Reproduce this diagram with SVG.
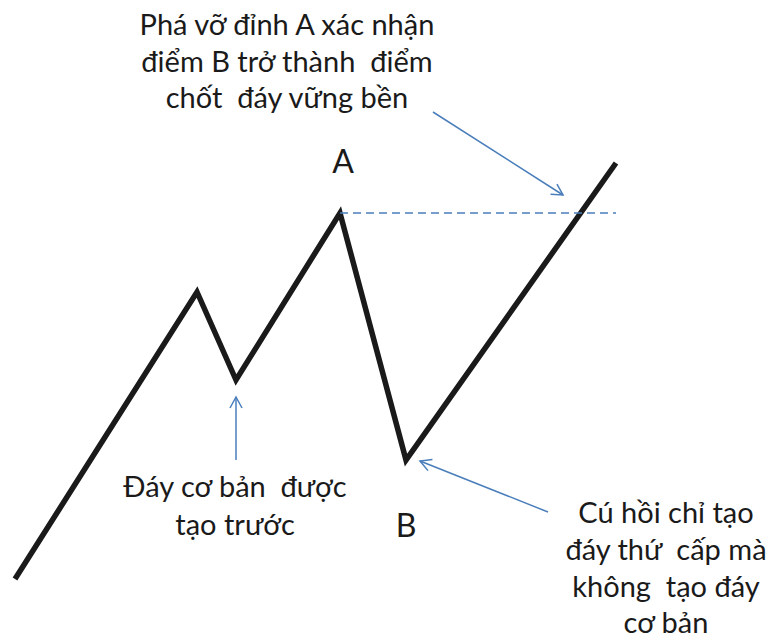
<svg xmlns="http://www.w3.org/2000/svg" width="771" height="642" viewBox="0 0 771 642">
<defs>
<marker id="arr" markerWidth="14" markerHeight="14" refX="12" refY="7" orient="auto" markerUnits="userSpaceOnUse">
<path d="M1,1 L12,7 L1,13" fill="none" stroke="#4a7ebb" stroke-width="1.5"/>
</marker>
<style>
text{font-family:Lato,"Noto Sans",sans-serif;fill:#1a1a1a;text-anchor:middle;white-space:pre}
.lbl{font-size:29px}
.big{font-size:32px}
.conn{stroke:#4a7ebb;stroke-width:1.5;fill:none}
</style>
</defs>
<g id="price">
<polyline points="15,579 197,292 236,380 340,213 406,460 616,163" fill="none" stroke="#1a1a1a" stroke-width="5.5" stroke-linejoin="miter"/>
</g>
<g id="connectors">
<line class="conn" x1="340" y1="213" x2="616" y2="213" stroke-dasharray="8,5"/>
<line class="conn" x1="433" y1="112" x2="563" y2="195" marker-end="url(#arr)"/>
<line class="conn" x1="236" y1="460" x2="236" y2="397" marker-end="url(#arr)"/>
<line class="conn" x1="548" y1="512" x2="420" y2="461" marker-end="url(#arr)"/>
</g>
<g id="labelA"><text class="big" x="343" y="173">A</text></g>
<g id="labelB"><text class="big" x="406" y="537">B</text></g>
<g id="note-top">
<text class="lbl" x="287" y="35">Phá vỡ đỉnh A xác nhận</text>
<text class="lbl" x="287" y="72">điểm B trở thành  điểm</text>
<text class="lbl" x="287" y="108">chốt  đáy vững bền</text>
</g>
<g id="note-left">
<text class="lbl" x="235" y="497">Đáy cơ bản  được</text>
<text class="lbl" x="235" y="535">tạo trước</text>
</g>
<g id="note-right">
<text class="lbl" x="666" y="523">Cú hồi chỉ tạo</text>
<text class="lbl" x="666" y="560">đáy thứ  cấp mà</text>
<text class="lbl" x="666" y="597">không  tạo đáy</text>
<text class="lbl" x="666" y="633">cơ bản</text>
</g>
</svg>
